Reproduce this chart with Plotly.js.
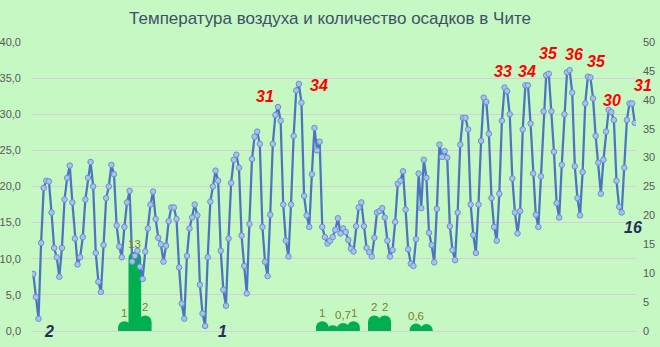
<!DOCTYPE html>
<html><head><meta charset="utf-8">
<script src="https://cdn.plot.ly/plotly-3.0.1.min.js"></script>
<style>html,body{margin:0;padding:0;background:#C6F8C4;}#chart{width:660px;height:347px;}</style>
</head><body><div id="chart"></div>
<script>
// Temperature every 3 hours (°C)
const temperature = [
  7.9, 4.7, 1.7, 12.2, 19.8, 20.8, 20.7, 16.4, 11.5, 10.2,
  7.5, 11.5, 18.2, 21.2, 22.9, 17.8, 12.8, 9.2, 10.2, 13.0,
  18.2, 21.2, 23.4, 20.0, 10.8, 6.8, 5.4, 11.9, 18.4, 20.0,
  23.0, 21.7, 14.6, 11.7, 10.2, 14.4, 17.8, 19.4, 9.6, 10.4,
  11.1, 8.9, 7.2, 11.0, 14.2, 17.5, 19.3, 15.5, 12.9, 12.0,
  9.6, 11.8, 15.2, 17.1, 17.1, 15.5, 8.8, 3.8, 1.7, 10.4,
  14.2, 15.7, 17.5, 16.0, 6.4, 2.4, 0.7, 10.2, 17.9, 20.0,
  22.2, 20.8, 11.1, 5.7, 3.5, 12.8, 20.5, 23.7, 24.4, 22.6,
  13.2, 9.0, 5.2, 14.8, 23.8, 26.9, 27.6, 25.9, 14.4, 9.6,
  7.6, 16.1, 25.9, 29.9, 31.0, 29.1, 17.5, 12.5, 10.3, 17.5,
  27.0, 33.3, 34.2, 31.6, 18.7, 16.0, 14.4, 21.7, 28.1, 25.0,
  26.2, 14.4, 13.0, 12.1, 12.5, 13.0, 14.0, 15.6, 13.5, 14.2,
  13.7, 12.6, 11.4, 11.0, 14.5, 17.1, 17.8, 14.5, 11.5, 10.9,
  10.3, 12.9, 16.4, 16.6, 17.0, 15.7, 12.5, 10.3, 11.2, 15.1,
  20.4, 20.8, 22.1, 16.8, 11.3, 9.3, 9.0, 12.7, 21.8, 17.0,
  23.7, 21.2, 13.6, 11.9, 9.5, 16.9, 25.8, 24.1, 24.9, 24.0,
  14.5, 11.2, 9.8, 16.4, 25.8, 29.5, 29.5, 27.9, 17.5, 13.3,
  10.8, 17.5, 26.3, 32.3, 31.7, 27.3, 18.4, 14.4, 12.5, 19.0,
  29.1, 33.7, 33.2, 30.0, 21.1, 16.4, 13.5, 16.6, 27.9, 34.0,
  34.0, 28.7, 21.8, 16.1, 14.4, 21.4, 30.4, 35.4, 35.6, 30.4,
  24.8, 17.7, 15.7, 23.0, 30.0, 35.8, 36.1, 33.0, 22.8, 18.4,
  16.0, 22.0, 31.5, 35.2, 35.1, 32.2, 27.0, 23.3, 19.0, 23.7,
  27.6, 30.6, 30.3, 29.2, 20.8, 17.2, 16.4, 22.6, 29.2, 31.5,
  31.5, 28.8
];
const timeIndex = temperature.map((_, i) => i);

// Precipitation (mm per 12 h), at observation index
const precipIndex  = [35, 39, 43, 111, 115, 119, 123, 131, 135, 147, 151];
const precipValues = [1, 13, 2, 1, 0.3, 0.7, 1, 2, 2, 0.6, 0.5];
const precipLabels = ['1', '13', '2', '1', '', '0,7', '1', '2', '2', '0,6', ''];

// Highlighted maxima / minima
const maxLabels = ['31', '34', '33', '34', '35', '36', '35', '30', '31'];
const maxIndex  = [94, 102, 181, 190, 198, 206, 214, 221, 230];
const minLabels = ['2', '1', '16'];
const minIndex  = [2, 66, 226];

// label offsets in pixels (style)
const maxShift = [[-13, 11], [20, -2], [-2, 16], [-1, 14], [0, 20], [4, 16], [6, 16], [3, 9], [11, 18]];
const minShift = [[10, -13], [17, -6], [11, -15]];

const FONT = 'Liberation Sans, Arial, sans-serif';
const BG = '#C6F8C4';

const bars = {
  type: 'bar', x: precipIndex, y: precipValues, xaxis: 'x', yaxis: 'y',
  width: 1.8,
  marker: {color: '#00B050', cornerradius: 2.3, line: {color: '#00B050', width: 8}},
  hoverinfo: 'skip'
};
const line = {
  type: 'scatter', mode: 'lines+markers', x: timeIndex, y: temperature,
  xaxis: 'x', yaxis: 'y2',
  line: {color: '#4A76C0', width: 2.25},
  marker: {size: 5.5, color: '#A8C2EC', line: {color: '#6B8FD0', width: 1}},
  hoverinfo: 'skip'
};

const annotations = [];
precipLabels.forEach((t, k) => {
  if (!t) return;
  annotations.push({x: precipIndex[k], y: precipValues[k], xref: 'x', yref: 'y', text: t, showarrow: false,
    yanchor: 'bottom', yshift: 4,
    font: {family: FONT, size: 11.5, color: '#7F7F1F'}});
});
maxLabels.forEach((t, k) => {
  const i = maxIndex[k];
  annotations.push({x: i, y: temperature[i], xref: 'x', yref: 'y2', text: t, showarrow: false,
    xshift: maxShift[k][0], yshift: maxShift[k][1],
    font: {family: FONT, size: 16, color: '#FF0000', weight: 'bold', style: 'italic'}});
});
minLabels.forEach((t, k) => {
  const i = minIndex[k];
  annotations.push({x: i, y: temperature[i], xref: 'x', yref: 'y2', text: t, showarrow: false,
    xshift: minShift[k][0], yshift: minShift[k][1],
    font: {family: FONT, size: 16, color: '#1F3158', weight: 'bold', style: 'italic'}});
});

const layout = {
  width: 660, height: 347,
  margin: {l: 32, r: 24, t: 42, b: 16, pad: 0},
  paper_bgcolor: BG, plot_bgcolor: BG,
  separators: ', ',
  showlegend: false,
  font: {family: FONT},
  title: {text: 'Температура воздуха и количество осадков в Чите',
    x: 0.5, xref: 'container', xanchor: 'center', y: 1 - 18 / 347, yref: 'container', yanchor: 'middle',
    font: {family: FONT, size: 17, color: '#3F5068'}},
  xaxis: {range: [-0.5, 231.5], showgrid: false, zeroline: false, showticklabels: false, ticks: '', showline: false},
  yaxis: {range: [0, 50], side: 'right', dtick: 5, tick0: 0, showgrid: false, zeroline: false,
    ticks: '', ticklabelstandoff: 6, tickfont: {family: FONT, size: 11, color: '#595959'}},
  yaxis2: {overlaying: 'y', side: 'left', range: [0, 40], dtick: 5, tick0: 0, tickformat: '.1f',
    showgrid: true, gridcolor: '#DCCBDD', gridwidth: 1, zeroline: true, zerolinecolor: '#DCCBDD', zerolinewidth: 1,
    ticks: '', ticklabelstandoff: 10, tickfont: {family: FONT, size: 11, color: '#595959'}},
  annotations: annotations
};

Plotly.newPlot('chart', [bars, line], layout, {displayModeBar: false, staticPlot: true});
</script>
</body></html>
